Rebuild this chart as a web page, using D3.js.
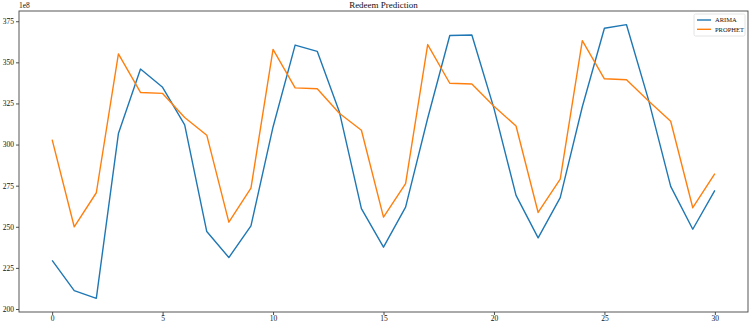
<!DOCTYPE html>
<html>
<head>
<meta charset="utf-8">
<script src="https://cdn.jsdelivr.net/npm/d3@7"></script>
<style>
  html, body { margin: 0; padding: 0; background: #fff; }
  svg { display: block; font-family: "Liberation Serif", "DejaVu Serif", serif; }
</style>
</head>
<body>
<div id="chart"></div>
<script>
(function () {
  'use strict';

  // values in units of 1e8 ...
  var days = d3.range(0, 31);
  var arima = [229.6, 211.2, 206.5, 306.7, 345.9, 334.8, 312.0, 247.1, 231.3, 250.6,
    310.7, 360.5, 356.7, 320.0, 261.0, 237.6, 262.0, 316.0, 366.3, 366.6,
    322.0, 269.1, 243.3, 267.7, 323.0, 370.7, 372.9, 327.0, 274.6, 248.5, 272.1];
  var prophet = [303.0, 250.0, 270.7, 355.1, 331.7, 331.1, 316.5, 305.7, 252.8, 273.5,
    357.9, 334.5, 333.9, 319.0, 308.7, 255.9, 276.2, 360.8, 337.3, 336.8,
    323.3, 311.3, 258.7, 279.0, 363.2, 340.0, 339.4, 326.5, 314.2, 261.6, 282.3];
  var xTicks = [0, 5, 10, 15, 20, 25, 30];
  var yTicks = [200, 225, 250, 275, 300, 325, 350, 375];
  var series = [
    { name: 'ARIMA', values: arima, color: '#1f77b4' },
    { name: 'PROPHET', values: prophet, color: '#ff7f0e' }
  ];

  var W = 749, H = 323;
  var m = { left: 19, right: 1, top: 11, bottom: 11 };

  var svg = d3.select('#chart').append('svg').attr('width', W).attr('height', H);

  // matplotlib style 5% margins
  var allVals = arima.concat(prophet);
  var ymin = d3.min(allVals), ymax = d3.max(allVals);
  var ypad = (ymax - ymin) * 0.05;

  var x = d3.scaleLinear().domain([-1.5, 31.5]).range([m.left, W - m.right]);
  var y = d3.scaleLinear().domain([ymin - ypad, ymax + ypad]).range([H - m.bottom, m.top]);

  var xAxis = d3.axisBottom(x).tickValues(xTicks).tickSize(3).tickPadding(1).tickFormat(d3.format('d'));
  var yAxis = d3.axisLeft(y).tickValues(yTicks).tickSize(3).tickPadding(2).tickFormat(d3.format('d'));

  var gx = svg.append('g').attr('transform', 'translate(0,' + (H - m.bottom) + ')').call(xAxis);
  var gy = svg.append('g').attr('transform', 'translate(' + m.left + ',0)').call(yAxis);
  [gx, gy].forEach(function (g) {
    g.select('.domain').remove();
    g.selectAll('.tick line').attr('stroke', '#222').attr('stroke-width', 0.8);
    g.selectAll('.tick text').attr('fill', '#111').style('font-size', '7.5px')
      .style('font-family', '"Liberation Serif", serif');
  });
  gx.selectAll('.tick text').attr('dy', '0.62em');

  var line = d3.line()
    .x(function (d, i) { return x(days[i]); })
    .y(function (d) { return y(d); });

  svg.selectAll('.series')
    .data(series)
    .enter().append('path')
    .attr('class', 'series')
    .attr('d', function (s) { return line(s.values); })
    .attr('fill', 'none')
    .attr('stroke', function (s) { return s.color; })
    .attr('stroke-width', 1.4)
    .attr('stroke-linejoin', 'round');

  // frame
  svg.append('rect')
    .attr('x', m.left).attr('y', m.top)
    .attr('width', W - m.left - m.right).attr('height', H - m.top - m.bottom)
    .attr('fill', 'none').attr('stroke', '#444').attr('stroke-width', 0.9);

  // title and offset label
  svg.append('text').attr('x', (m.left + W - m.right) / 2).attr('y', 8)
    .attr('text-anchor', 'middle').style('font-size', '9px').attr('fill', '#111')
    .text('Redeem Prediction');
  svg.append('text').attr('x', m.left).attr('y', 8)
    .style('font-size', '7.5px').attr('fill', '#111').text('1e8');

  // legend
  var lg = svg.append('g').attr('transform', 'translate(694,14)');
  lg.append('rect').attr('width', 51).attr('height', 22).attr('rx', 1.5)
    .attr('fill', '#fff').attr('stroke', '#ddd').attr('stroke-width', 0.8);
  series.forEach(function (s, i) {
    var yy = 6 + i * 9.3;
    lg.append('line').attr('x1', 3).attr('x2', 17).attr('y1', yy).attr('y2', yy)
      .attr('stroke', s.color).attr('stroke-width', 1.4);
    lg.append('text').attr('x', 21).attr('y', yy + 2.2)
      .style('font-size', '6.5px').attr('fill', '#111').text(s.name);
  });
})();
</script>
</body>
</html>
